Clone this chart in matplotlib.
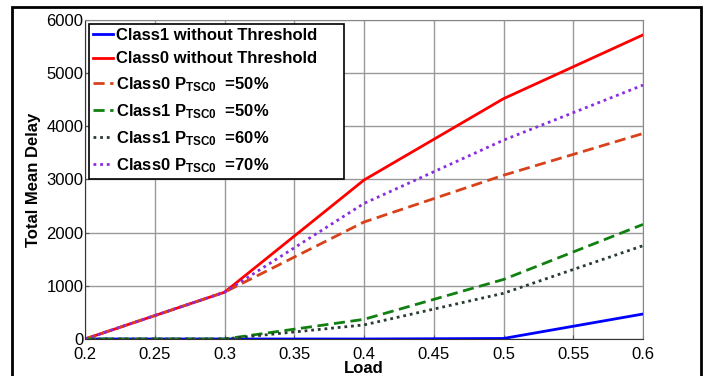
import matplotlib
matplotlib.use("Agg")
import matplotlib.pyplot as plt
from matplotlib.patches import Rectangle

plt.rcParams['font.family'] = ['Liberation Sans', 'DejaVu Sans']
plt.rcParams['mathtext.fontset'] = 'custom'
plt.rcParams['mathtext.rm'] = 'Liberation Sans:bold'
plt.rcParams['mathtext.bf'] = 'Liberation Sans:bold'
plt.rcParams['mathtext.default'] = 'bf'

load = [0.2, 0.3, 0.4, 0.5, 0.6]
class1_no_thr = [0, 0, 0, 10, 470]
class0_no_thr = [0, 880, 2990, 4520, 5720]
class0_p50 = [0, 880, 2200, 3080, 3865]
class1_p50 = [0, 0, 370, 1120, 2155]
class1_p60 = [0, 0, 265, 860, 1755]
class0_p70 = [0, 880, 2550, 3740, 4775]

labels = ['Class1 without Threshold', 'Class0 without Threshold',
          r'Class0 P$_{\mathbf{TSC0}}$  =50%', r'Class1 P$_{\mathbf{TSC0}}$  =50%',
          r'Class1 P$_{\mathbf{TSC0}}$  =60%', r'Class0 P$_{\mathbf{TSC0}}$  =70%']

xticks = [0.2, 0.25, 0.3, 0.35, 0.4, 0.45, 0.5, 0.55, 0.6]
yticks = [0, 1000, 2000, 3000, 4000, 5000, 6000]

fig = plt.figure(figsize=(7.07, 3.76), dpi=100)
ax = fig.add_axes([85 / 707, 1 - 339 / 376, (643 - 85) / 707, (339 - 20) / 376])

lw = 2.0
ax.plot(load, class1_no_thr, color='#0000ff', lw=lw, label=labels[0] + '     ')
ax.plot(load, class0_no_thr, color='#ff0000', lw=lw, label=labels[1])
ax.plot(load, class0_p50, color='#d9411a', lw=lw, ls=(0, (4, 2)), label=labels[2])
ax.plot(load, class1_p50, color='#108010', lw=lw, ls=(0, (4, 2)), label=labels[3])
ax.plot(load, class1_p60, color='#283c30', lw=lw, ls=(0, (1, 1.4)), label=labels[4])
ax.plot(load, class0_p70, color='#8a2be2', lw=lw, ls=(0, (1, 1.4)), label=labels[5])

ax.set_xlim(0.2, 0.6)
ax.set_ylim(0, 6000)
ax.set_xticks(xticks)
ax.set_xticklabels([f'{t:g}' for t in xticks])
ax.set_yticks(yticks)
ax.tick_params(labelsize=12, direction='in', length=3, color='#555555')
ax.tick_params(axis='x', pad=6)
ax.tick_params(axis='y', pad=1)
ax.grid(True, color='#999999', lw=1)
for s in ax.spines.values():
    s.set_color('#888888')
ax.spines['left'].set_color('#333333')
ax.spines['bottom'].set_color('#333333')

ax.set_xlabel('Load', fontsize=12, fontweight='bold', labelpad=-1)
ax.set_ylabel('Total Mean Delay', fontsize=12, fontweight='bold', labelpad=4)

leg = ax.legend(loc='upper left', bbox_to_anchor=(4 / 558, 1 - 4 / 319),
                prop={'weight': 'bold', 'size': 12}, handlelength=1.2,
                handletextpad=0.15, labelspacing=0.5, borderpad=0.25,
                borderaxespad=0.0, fancybox=False, framealpha=1)
leg.get_frame().set_edgecolor('black')
leg.get_frame().set_linewidth(1.2)

fig.patches.append(Rectangle((12 / 707, -0.05), (701 - 12) / 707, 1 - 7 / 376 + 0.05,
                             transform=fig.transFigure, fill=False,
                             edgecolor='black', lw=2))

fig.savefig('out.png', dpi=100)
